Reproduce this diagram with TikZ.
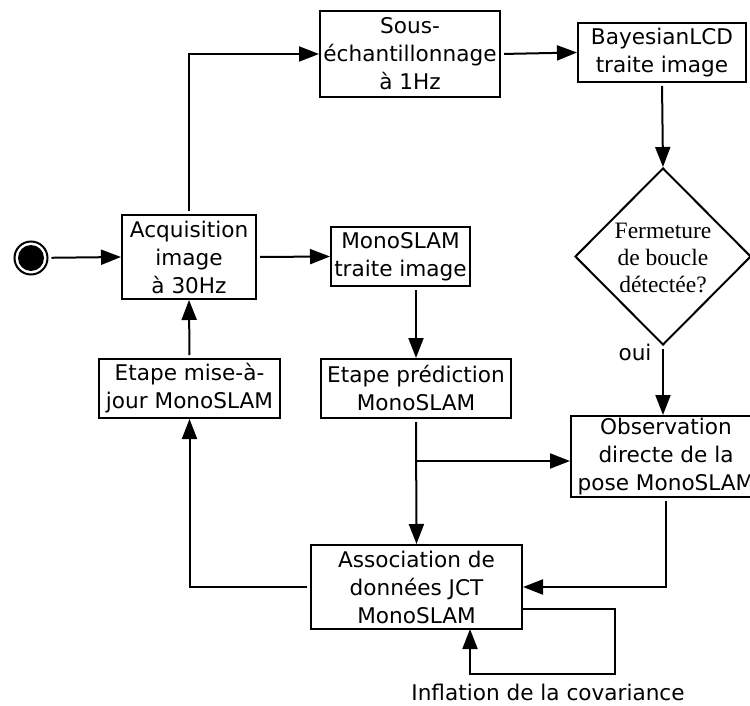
\documentclass[tikz,border=0pt]{standalone}
\usepackage{fontspec}
\newfontfamily\dv{DejaVu Sans}
\newfontfamily\sr{Liberation Serif}
\usetikzlibrary{arrows.meta,shapes.geometric,calc}
\tikzset{
  box/.style={draw=black,line width=2pt,rectangle,inner sep=0pt,align=center,font=\dv\fontsize{21.6}{28}\selectfont},
  arr/.style={line width=2pt,shorten <=3pt,-{Triangle[length=20pt,width=15pt]}},
  lbl/.style={inner sep=0pt,font=\dv\fontsize{21.6}{28}\selectfont}
}
\begin{document}
\begin{tikzpicture}[x=1pt,y=-1pt]
\useasboundingbox (0,0) rectangle (750,706);
% start
\node[circle,draw=black,line width=2pt,minimum size=33pt,inner sep=0pt] (start) at (31,258) {};
\node[circle,fill=black,minimum size=26pt,inner sep=0pt] (startin) at (31,258) {};
% boxes
\node[box,minimum width=134pt,minimum height=84pt] (acq) at (189,257) {Acquisition\\image\\à 30Hz};
\node[box,minimum width=180pt,minimum height=86pt] (sous) at (410,54) {Sous-\\échantillonnage\\à 1Hz};
\node[box,minimum width=168pt,minimum height=59pt] (bay) at (662,52.5) {BayesianLCD\\traite image};
\node[box,minimum width=139pt,minimum height=59pt] (mono) at (400.5,256.5) {MonoSLAM\\traite image};
\node[draw=black,line width=2pt,shape=diamond,inner sep=0pt,minimum width=176pt,minimum height=177pt] (dia) at (663,256.5) {};
\node[align=center,inner sep=0pt,font=\sr\fontsize{23.5}{27}\selectfont] (diat) at (663,258) {Fermeture\\de boucle\\détectée?};
\node[box,minimum width=181pt,minimum height=59pt] (maj) at (189.5,388.5) {Etape mise-à-\\jour MonoSLAM};
\node[box,minimum width=190pt,minimum height=59pt] (pred) at (416,388.5) {Etape prédiction\\MonoSLAM};
\node[box,minimum width=190pt,minimum height=81pt] (obs) at (666,456.5) {Observation\\directe de la\\pose MonoSLAM};
\node[box,minimum width=211pt,minimum height=84pt] (assoc) at (416.5,587) {Association de\\données JCT\\MonoSLAM};
% labels
\node[lbl] (oui) at (635,352) {oui};
\node[lbl] (infl) at (548,692) {Inflation de la covariance};
% connectors
\draw[arr] (start) -- (acq.west);
\draw[arr] (acq.north) |- (sous.west);
\draw[arr] (sous.east) -- (bay.west);
\draw[arr] (bay.south) -- (dia.north);
\draw[arr] (acq.east) -- (mono.west);
\draw[arr] (pred.north |- mono.south) -- (pred.north);
\draw[arr] (dia.south) -- (dia.south |- obs.north);
\draw[arr] (pred.south) -- (assoc.north);
\coordinate (br) at (416,461);
\draw[arr,shorten <=0pt] (br) -- (br -| obs.west);
\draw[arr] (obs.south) |- (assoc.east);
\draw[arr] (assoc.west) -| (maj.south);
\draw[arr] (maj.north) -- (acq.south);
\coordinate (l0) at (522,609);
\coordinate (lp) at (615,674);
\coordinate (l1) at (470,629);
\draw[arr,shorten <=0pt] (l0) -| (lp) -| (l1);
\end{tikzpicture}
\end{document}
